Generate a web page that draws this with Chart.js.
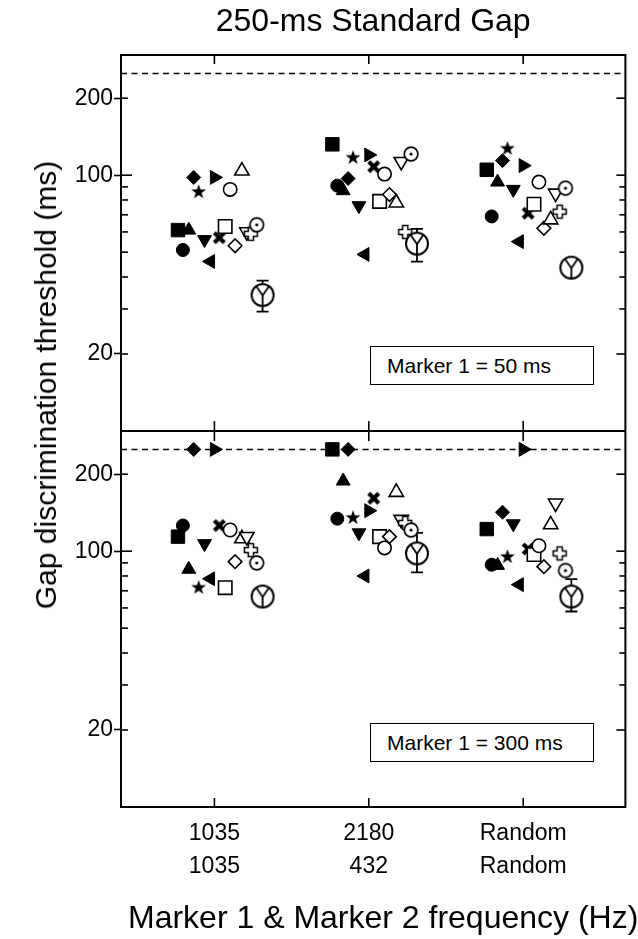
<!DOCTYPE html>
<html><head><meta charset="utf-8">
<script src="https://cdn.jsdelivr.net/npm/chart.js@4.4.0/dist/chart.umd.min.js"></script>
<style>
html,body{margin:0;padding:0;background:#fff;}
#wrap{position:relative;width:638px;height:939px;overflow:hidden;font-family:"Liberation Sans",Arial,sans-serif;color:#000;}
#c{position:absolute;left:0;top:0;}
.ytitle{position:absolute;left:46px;top:385px;transform:translate(-50%,-50%) rotate(-90deg);font-size:30px;white-space:nowrap;line-height:1;}
.xtitle{position:absolute;left:128px;top:917px;transform:translateY(-50%);font-size:32px;white-space:nowrap;line-height:1;}
.note{position:absolute;border:1.5px solid #000;box-sizing:border-box;font-size:21px;display:flex;align-items:center;padding-left:16px;white-space:nowrap;background:#fff;}
</style></head>
<body><div id="wrap"><canvas id="c" width="638" height="939"></canvas>
<div class="ytitle">Gap discrimination threshold (ms)</div>
<div class="xtitle">Marker 1 &amp; Marker 2 frequency (Hz)</div>
<div class="note" style="left:370px;top:346px;width:224px;height:39px;">Marker 1 = 50 ms</div>
<div class="note" style="left:370px;top:723px;width:224px;height:39px;">Marker 1 = 300 ms</div>
</div>
<script>
// ---------- data ----------
const marker1Freq = ['1035', '2180', 'Random'];
const marker2Freq = ['1035', '432', 'Random'];
const yTickValues = [20, 30, 40, 50, 60, 70, 80, 90, 100, 200];
const yTickLabels = [20, 100, 200];
const standardGap = 250;

// Marker 1 = 50 ms (upper panel)
const m50_filledSquare  = [61, 132, 105];
const m50_filledCircle  = [51, 91, 69];
const m50_filledTriUp   = [61, 87, 94];
const m50_filledDiamond = [98, 97, 114];
const m50_filledStar    = [86, 117, 127];
const m50_filledTriDown = [56, 76, 88];
const m50_filledTriLeft = [46, 49, 55];
const m50_filledTriRight= [98, 120, 109];
const m50_filledX       = [57, 108, 71];
const m50_openSquare    = [63, 79, 77];
const m50_openCircle    = [88, 101, 94];
const m50_openDiamond   = [53, 84, 62];
const m50_openTriUp     = [104, 78, 67];
const m50_openTriDown   = [60, 113, 85];
const m50_openPlus      = [59, 60, 72];
const m50_circleDot     = [64, 121, 89];
const m50_mean          = [34, 54, 43.5];
const m50_meanLow       = [29.3, 45.9, null];
const m50_meanHigh      = [38.7, 61.7, null];

// Marker 1 = 300 ms (lower panel)
const m300_filledSquare  = [114, 250, 122];
const m300_filledCircle  = [126, 134, 88.5];
const m300_filledTriUp   = [85, 188, 88];
const m300_filledDiamond = [250, 250, 142];
const m300_filledStar    = [72, 135, 95];
const m300_filledTriDown = [107, 118, 128];
const m300_filledTriLeft = [78, 80, 74];
const m300_filledTriRight= [250, 144, 250];
const m300_filledX       = [126, 161, 102];
const m300_openSquare    = [72, 114, 97];
const m300_openCircle    = [121, 103, 105];
const m300_openDiamond   = [91, 114, 87];
const m300_openTriUp     = [112, 170, 127];
const m300_openTriDown   = [114, 133, 154];
const m300_openPlus      = [101, 129, 98];
const m300_circleDot     = [90, 121, 84];
const m300_mean          = [66.5, 98, 66.5];
const m300_meanLow       = [null, 82.6, 58.1];
const m300_meanHigh      = [null, 117.9, 77.8];

// ---------- marker images (styles) ----------
function mk(size, draw){const c=document.createElement('canvas');c.width=size;c.height=size;const g=c.getContext('2d');g.translate(size/2,size/2);g.strokeStyle='#000';g.fillStyle='#000';draw(g);return c;}
const starImg = mk(18, g => {g.beginPath(); for(let i=0;i<10;i++){const r=i%2?3.1:7.8; const a=-Math.PI/2+i*Math.PI/5; g.lineTo(r*Math.cos(a), r*Math.sin(a));} g.closePath(); g.fill();});
const xImg = mk(16, g => {g.lineWidth=4.2; g.lineCap='butt'; g.beginPath(); g.moveTo(-5,-5); g.lineTo(5,5); g.moveTo(5,-5); g.lineTo(-5,5); g.stroke();});
const plusImg = mk(18, g => {const a=2.6,L=6.5; const pts=[[-a,-L],[a,-L],[a,-a],[L,-a],[L,a],[a,a],[a,L],[-a,L],[-a,a],[-L,a],[-L,-a],[-a,-a]]; g.beginPath(); pts.forEach(p=>g.lineTo(p[0],p[1])); g.closePath(); g.fillStyle='#fff'; g.fill(); g.lineWidth=1.5; g.stroke();});
const dotImg = mk(18, g => {g.beginPath(); g.arc(0,0,6.8,0,2*Math.PI); g.fillStyle='#fff'; g.fill(); g.lineWidth=1.7; g.stroke(); g.beginPath(); g.arc(0,0,1.6,0,2*Math.PI); g.fillStyle='#000'; g.fill();});
const yImg = mk(28, g => {g.beginPath(); g.arc(0,0,11,0,2*Math.PI); g.fillStyle='#fff'; g.fill(); g.lineWidth=2; g.stroke(); g.beginPath(); g.moveTo(-6.3,-8.7); g.lineTo(0,0.5); g.lineTo(6.3,-8.7); g.moveTo(0,0.5); g.lineTo(0,11); g.lineWidth=1.8; g.stroke();});

const B='#000', W='#fff';
const seriesStyles = [
  {name:'filledSquare',  dx:-0.236, ps:'rect',     r:9.5, rot:0,   bg:B},
  {name:'filledCircle',  dx:-0.204, ps:'circle',   r:6.5, rot:0,   bg:B},
  {name:'filledTriUp',   dx:-0.166, ps:'triangle', r:8,   rot:0,   bg:B},
  {name:'filledDiamond', dx:-0.134, ps:'rectRot',  r:7,   rot:0,   bg:B},
  {name:'filledStar',    dx:-0.102, ps:starImg,    r:7,   rot:0,   bg:B},
  {name:'filledTriDown', dx:-0.064, ps:'triangle', r:8,   rot:180, bg:B},
  {name:'filledTriLeft', dx:-0.025, ps:'triangle', r:8,   rot:270, bg:B},
  {name:'filledTriRight',dx: 0.000, ps:'triangle', r:8,   rot:90,  bg:B},
  {name:'filledX',       dx: 0.032, ps:xImg,       r:7,   rot:0,   bg:B},
  {name:'openSquare',    dx: 0.070, ps:'rect',     r:9.5, rot:0,   bg:W},
  {name:'openCircle',    dx: 0.102, ps:'circle',   r:6.7, rot:0,   bg:W},
  {name:'openDiamond',   dx: 0.134, ps:'rectRot',  r:6.8, rot:0,   bg:W},
  {name:'openTriUp',     dx: 0.178, ps:'triangle', r:8.3, rot:0,   bg:W},
  {name:'openTriDown',   dx: 0.210, ps:'triangle', r:8.3, rot:180, bg:W},
  {name:'openPlus',      dx: 0.236, ps:plusImg,    r:7,   rot:0,   bg:W},
  {name:'circleDot',     dx: 0.274, ps:dotImg,     r:7,   rot:0,   bg:W},
  {name:'mean',          dx: 0.312, ps:yImg,       r:11,  rot:0,   bg:W}
];
const panels = [
  {axis:'yTop', values:{filledSquare:m50_filledSquare,filledCircle:m50_filledCircle,filledTriUp:m50_filledTriUp,filledDiamond:m50_filledDiamond,filledStar:m50_filledStar,filledTriDown:m50_filledTriDown,filledTriLeft:m50_filledTriLeft,filledTriRight:m50_filledTriRight,filledX:m50_filledX,openSquare:m50_openSquare,openCircle:m50_openCircle,openDiamond:m50_openDiamond,openTriUp:m50_openTriUp,openTriDown:m50_openTriDown,openPlus:m50_openPlus,circleDot:m50_circleDot,mean:m50_mean}, low:m50_meanLow, high:m50_meanHigh},
  {axis:'yBot', values:{filledSquare:m300_filledSquare,filledCircle:m300_filledCircle,filledTriUp:m300_filledTriUp,filledDiamond:m300_filledDiamond,filledStar:m300_filledStar,filledTriDown:m300_filledTriDown,filledTriLeft:m300_filledTriLeft,filledTriRight:m300_filledTriRight,filledX:m300_filledX,openSquare:m300_openSquare,openCircle:m300_openCircle,openDiamond:m300_openDiamond,openTriUp:m300_openTriUp,openTriDown:m300_openTriDown,openPlus:m300_openPlus,circleDot:m300_circleDot,mean:m300_mean}, low:m300_meanLow, high:m300_meanHigh}
];
const xMin = 0.395, xMax = 3.662;
const meanDx = seriesStyles.find(s => s.name === 'mean').dx;

const datasets = [];
panels.forEach(p => {
  seriesStyles.slice().reverse().forEach(s => {
    datasets.push({
      label: s.name, yAxisID: p.axis, order: 0,
      data: p.values[s.name].map((v, i) => ({x: i + 1 + s.dx, y: v})),
      pointStyle: s.ps, pointRadius: s.r, pointRotation: s.rot,
      pointBackgroundColor: s.bg, pointBorderColor: '#000',
      pointBorderWidth: s.bg === W ? 1.6 : 1, showLine: false
    });
  });
  const eb = [];
  p.low.forEach((lo, i) => { if (lo != null) { const x = i + 1 + meanDx; eb.push({x, y: lo}, {x, y: p.high[i]}, {x, y: null}); } });
  datasets.push({label:'err', yAxisID:p.axis, order:5, data:eb, showLine:true, spanGaps:false,
    borderColor:'#000', borderWidth:1.8, pointStyle:'line', pointRadius:6, pointBorderWidth:1.8, pointBorderColor:'#000'});
  datasets.push({label:'standard', yAxisID:p.axis, order:10, data:[{x:xMin,y:standardGap},{x:xMax,y:standardGap}],
    showLine:true, borderColor:'#000', borderWidth:1.5, borderDash:[6,4.5], pointRadius:0});
});

const framePlugin = {
  id:'frame',
  afterDraw(chart){
    const {ctx, chartArea:a, scales} = chart;
    const xs = scales.x, yT = scales.yTop, yB = scales.yBot;
    const mid = Math.min(yT.bottom, yB.bottom);
    ctx.save();
    ctx.strokeStyle = '#000';
    const line = (x1,y1,x2,y2) => {ctx.beginPath();ctx.moveTo(x1,y1);ctx.lineTo(x2,y2);ctx.stroke();};
    ctx.lineWidth = 1.6;
    [1,2,3].forEach(v => { const px = xs.getPixelForValue(v);
      line(px, a.top, px, a.top + 9); line(px, mid - 10, px, mid + 10); line(px, a.bottom, px, a.bottom - 9); });
    [yT, yB].forEach(s => yTickValues.forEach(v => { const py = s.getPixelForValue(v);
      const major = yTickLabels.includes(v);
      line(a.left, py, a.left + (v === 100 ? 11 : 7), py);
      line(a.right, py, a.right - (major ? 9 : 6), py); }));
    ctx.lineWidth = 2;
    ctx.strokeRect(a.left, a.top, a.right - a.left, a.bottom - a.top);
    line(a.left, mid, a.right, mid);
    ctx.restore();
  }
};

Chart.defaults.font.family = '"Liberation Sans", Arial, sans-serif';
Chart.defaults.color = '#000';

const yAxis = () => ({
  type:'logarithmic', position:'left', stack:'panels', stackWeight:1,
  min:10, max:295,
  afterBuildTicks: s => { s.ticks = yTickValues.map(v => ({value:v})); },
  afterFit: s => { s.width = 121; },
  border:{display:false},
  grid:{display:true, drawOnChartArea:false, drawTicks:true, tickLength:7, tickWidth:1.6,
        tickColor: c => (c.tick && yTickLabels.includes(c.tick.value)) ? '#000' : 'rgba(0,0,0,0)'},
  ticks:{font:{size:23}, padding:1, autoSkip:false,
         callback: v => yTickLabels.includes(v) ? String(v) : ''}
});

new Chart(document.getElementById('c'), {
  type:'scatter',
  data:{datasets},
  options:{
    responsive:false, animation:false, events:[],
    layout:{padding:{left:0,right:4,top:0,bottom:0}},
    plugins:{
      legend:{display:false}, tooltip:{enabled:false},
      title:{display:true, text:'250-ms Standard Gap', fullSize:false, color:'#000',
             font:{size:32, weight:'normal'}, padding:{top:2.6,bottom:14}}
    },
    scales:{
      x:{type:'linear', min:xMin, max:xMax,
         afterBuildTicks: s => { s.ticks = marker1Freq.map((_, i) => ({value:i + 1})); },
         afterFit: s => { s.height = 132; },
         border:{display:false}, grid:{display:false, drawTicks:false},
         ticks:{font:{size:23, lineHeight:1.45}, padding:9.5, maxRotation:0, autoSkip:false,
                callback: v => [marker1Freq[v - 1], marker2Freq[v - 1]]}
      },
      yBot: yAxis(),
      yTop: yAxis()
    }
  },
  plugins:[framePlugin]
});
</script></body></html>
